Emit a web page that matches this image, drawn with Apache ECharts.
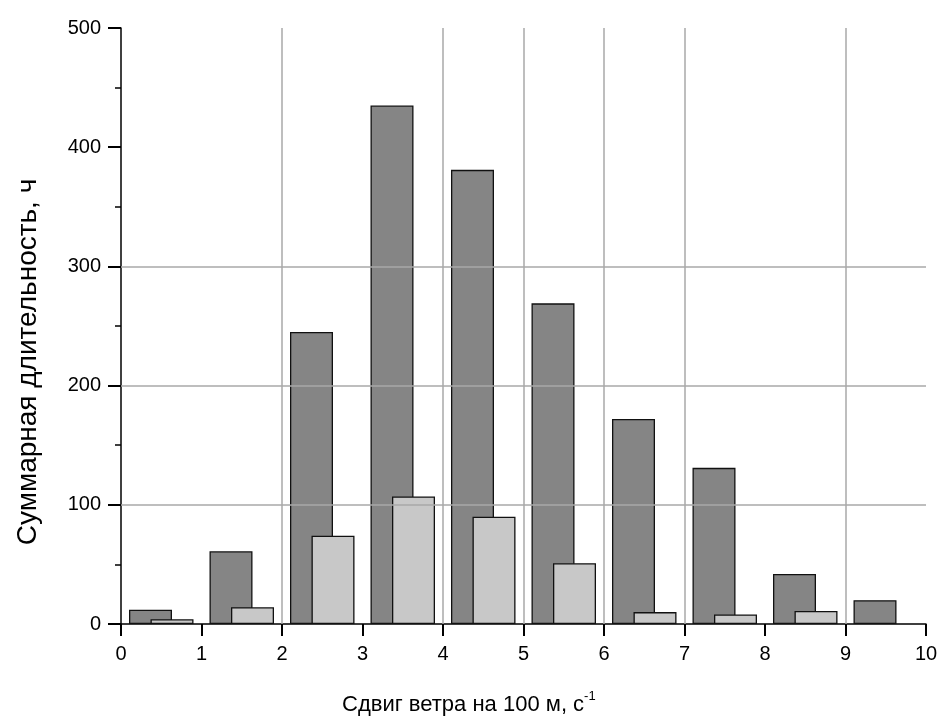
<!DOCTYPE html>
<html>
<head>
<meta charset="utf-8">
<script src="https://cdn.jsdelivr.net/npm/echarts@6/dist/echarts.min.js"></script>
<style>
  html, body { margin: 0; padding: 0; background: #fff; }
  #chart { width: 943px; height: 722px; }
</style>
</head>
<body>
<div id="chart"></div>
<script>
// Wind-shear bins (m/s per 100 m), one bar pair per unit interval
const bins = ['0-1', '1-2', '2-3', '3-4', '4-5', '5-6', '6-7', '7-8', '8-9', '9-10'];
// Total duration, hours (dark bars)
const durationDark = [12, 61, 245, 435, 381, 269, 172, 131, 42, 20];
// Total duration, hours (light bars); the last bin has none
const durationLight = [4, 14, 74, 107, 90, 51, 10, 8, 11, null];
// Positions of the drawn reference lines
const vGridAt = [2, 4, 5, 6, 7, 9];
const hGridAt = [100, 200, 300];

const FONT = '"Liberation Sans", Arial, sans-serif';
const chart = echarts.init(document.getElementById('chart'), null, { renderer: 'canvas' });

const gridLine = { color: '#a8a8a8', width: 1.5, type: 'solid' };

chart.setOption({
  animation: false,
  backgroundColor: '#ffffff',
  grid: { left: 121, right: 17, top: 28, bottom: 98, containLabel: false },
  xAxis: [
    {
      type: 'category',
      data: bins,
      show: false,
      boundaryGap: true
    },
    {
      type: 'value',
      min: 0, max: 10, interval: 1,
      position: 'bottom',
      axisLine: { show: true, onZero: false, lineStyle: { color: '#000', width: 1.5 } },
      axisTick: { show: true, inside: false, length: 12, lineStyle: { color: '#000', width: 2 } },
      axisLabel: { color: '#000', fontFamily: FONT, fontSize: 20, margin: 20 },
      splitLine: { show: false }
    }
  ],
  yAxis: {
    type: 'value',
    min: 0, max: 500, interval: 100,
    axisLine: { show: true, lineStyle: { color: '#000', width: 1.5 } },
    axisTick: { show: true, inside: false, length: 13, lineStyle: { color: '#000', width: 2 } },
    minorTick: { show: true, splitNumber: 2, length: 6, lineStyle: { color: '#000', width: 1.5 } },
    axisLabel: { color: '#000', fontFamily: FONT, fontSize: 20, margin: 20 },
    splitLine: { show: false }
  },
  series: [
    {
      // reference lines behind the bars
      type: 'line',
      xAxisIndex: 1,
      data: [],
      z: 1,
      silent: true,
      markLine: {
        silent: true,
        symbol: ['none', 'none'],
        label: { show: false },
        lineStyle: gridLine,
        data: vGridAt.map(v => ({ xAxis: v })).concat(hGridAt.map(v => ({ yAxis: v })))
      }
    },
    {
      type: 'bar',
      xAxisIndex: 0,
      data: durationDark,
      barWidth: 43,
      z: 3,
      itemStyle: { color: '#858585', borderColor: '#111', borderWidth: 1.3 }
    },
    {
      type: 'bar',
      xAxisIndex: 0,
      data: durationLight,
      barWidth: 43,
      barGap: '-50%',
      z: 3,
      itemStyle: { color: '#c8c8c8', borderColor: '#111', borderWidth: 1.3 }
    }
  ],
  graphic: [
    {
      type: 'text',
      left: 342,
      top: 690,
      style: {
        text: '{a|Сдвиг ветра на 100 м, с}{b|-1}',
        rich: {
          a: { fontFamily: FONT, fontSize: 22, fill: '#000', lineHeight: 26, verticalAlign: 'bottom' },
          b: { fontFamily: FONT, fontSize: 13, fill: '#000', lineHeight: 26, verticalAlign: 'top' }
        }
      }
    },
    {
      type: 'text',
      x: 28,
      y: 362,
      rotation: Math.PI / 2,
      style: {
        text: 'Суммарная длительность, ч',
        fontFamily: FONT,
        fontSize: 28,
        fill: '#000',
        align: 'center',
        verticalAlign: 'middle'
      }
    }
  ]
});
</script>
</body>
</html>
